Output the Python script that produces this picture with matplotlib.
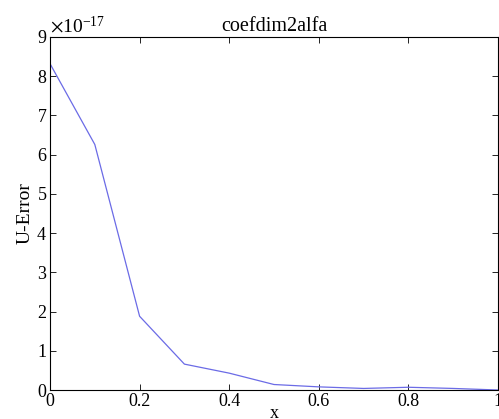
import numpy as np
import matplotlib
matplotlib.use("Agg")
import matplotlib.pyplot as plt
from matplotlib.ticker import ScalarFormatter

# values (U-Error in units of 1e-17)
x = [0.0, 0.1, 0.2, 0.3, 0.4, 0.5, 0.6, 0.7, 0.8, 0.9, 1.0]
err = [8.32, 6.26, 1.88, 0.66, 0.43, 0.14, 0.08, 0.04, 0.07, 0.04, 0.0]
err = [v * 1e-17 for v in err]

plt.rcParams['font.family'] = ['Liberation Serif', 'DejaVu Serif']
plt.rcParams['mathtext.fontset'] = 'stix'

fig = plt.figure(figsize=(4.99, 4.19), dpi=100)
ax = fig.add_axes([0.1002, 0.0692, 0.8978, 0.8425])

ax.plot(x, err, color=(0.42, 0.42, 0.9), linewidth=0.9)

ax.set_xlim(0, 1)
ax.set_ylim(0, 9e-17)
ax.set_xticks([0, 0.2, 0.4, 0.6, 0.8, 1])
ax.set_xticklabels(['0', '0.2', '0.4', '0.6', '0.8', '1'])
ax.set_yticks(np.arange(10) * 1e-17)

fmt = ScalarFormatter(useMathText=True)
fmt.set_powerlimits((0, 0))
ax.yaxis.set_major_formatter(fmt)
ax.yaxis.get_offset_text().set_fontsize(14)
ax.yaxis.get_offset_text().set_x(0.0)

ax.tick_params(direction='in', top=True, right=True, labelsize=13,
               length=4, width=0.6, pad=2)
for s in ax.spines.values():
    s.set_linewidth(0.8)

ax.set_title('coefdim2alfa', fontsize=14.5, pad=4)
ax.set_xlabel('x', fontsize=13, labelpad=-3.5)
ax.set_ylabel('U-Error', fontsize=14, labelpad=2)

fig.savefig('out.png', dpi=100)
